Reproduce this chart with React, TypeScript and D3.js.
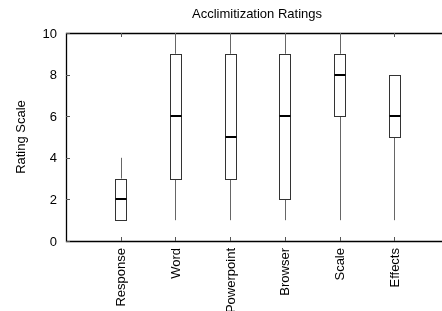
import * as d3 from 'd3';
import { useEffect, useRef } from "react";

const categories = ['Response', 'Word', 'Powerpoint', 'Browser', 'Scale', 'Effects'];
const whiskerLow = [1, 1, 1, 1, 1, 1];
const boxLow = [1, 3, 3, 2, 6, 5];
const medians = [2, 6, 5, 6, 8, 6];
const boxHigh = [3, 9, 9, 9, 9, 8];
const whiskerHigh = [4, 10, 10, 10, 10, 8];
const yTicks = [0, 2, 4, 6, 8, 10];

const width = 442;
const height = 311;
const margin = { left: 66, top: 33, bottom: 70 };

const App = () => {
    const svgRef = useRef<SVGSVGElement>(null);

    useEffect(() => {
        const svg = d3.select(svgRef.current)
            .attr('width', width)
            .attr('height', height);

        svg.selectAll('*').remove();

        const font = 'Liberation Sans, Arial, sans-serif';
        const fs = 13;
        const bottom = height - margin.bottom;

        const x = d3.scaleLinear()
            .domain([0, 7])
            .range([margin.left, 449]);

        const y = d3.scaleLinear()
            .domain([0, 10])
            .range([bottom, margin.top]);

        const px = (v: number) => Math.round(v) + 0.5;

        // frame
        svg.append('path')
            .attr('d', `M${width + 10},${px(y(10))}H${px(x(0))}V${px(y(0))}H${width + 10}`)
            .attr('fill', 'none')
            .attr('stroke', '#000')
            .attr('stroke-width', 1.3);

        // y ticks
        svg.selectAll('.ytick')
            .data(yTicks)
            .enter()
            .append('line')
            .attr('x1', x(0))
            .attr('x2', x(0) + 4)
            .attr('y1', d => px(y(d)))
            .attr('y2', d => px(y(d)))
            .attr('stroke', '#555');

        svg.selectAll('.ylabel')
            .data(yTicks)
            .enter()
            .append('text')
            .attr('x', x(0) - 9)
            .attr('y', d => y(d))
            .attr('dy', '0.36em')
            .attr('text-anchor', 'end')
            .attr('font-family', font)
            .attr('font-size', fs)
            .text(d => d);

        // x ticks, bottom and top
        categories.forEach((c, i) => {
            const cx = px(x(i + 1));
            svg.append('line')
                .attr('x1', cx).attr('x2', cx)
                .attr('y1', y(0)).attr('y2', y(0) - 4)
                .attr('stroke', '#555');
            svg.append('line')
                .attr('x1', cx).attr('x2', cx)
                .attr('y1', y(10)).attr('y2', y(10) + 4)
                .attr('stroke', '#555');
            svg.append('text')
                .attr('transform', `translate(${x(i + 1)},${bottom + 7}) rotate(-90)`)
                .attr('dy', '0.35em')
                .attr('text-anchor', 'end')
                .attr('font-family', font)
                .attr('font-size', fs)
                .text(c);
        });

        // boxes
        const bw = 11;
        categories.forEach((c, i) => {
            const cx = px(x(i + 1));
            const g = svg.append('g');
            g.append('line')
                .attr('x1', cx).attr('x2', cx)
                .attr('y1', y(whiskerLow[i])).attr('y2', y(boxLow[i]))
                .attr('stroke', '#666');
            g.append('line')
                .attr('x1', cx).attr('x2', cx)
                .attr('y1', y(boxHigh[i])).attr('y2', y(whiskerHigh[i]))
                .attr('stroke', '#666');
            g.append('rect')
                .attr('x', Math.round(x(i + 1) - bw / 2) + 0.5)
                .attr('y', px(y(boxHigh[i])))
                .attr('width', bw)
                .attr('height', Math.round(y(boxLow[i])) - Math.round(y(boxHigh[i])))
                .attr('fill', '#fff')
                .attr('stroke', '#333');
            g.append('line')
                .attr('x1', Math.round(x(i + 1) - bw / 2) + 0.5)
                .attr('x2', Math.round(x(i + 1) - bw / 2) + 0.5 + bw)
                .attr('y1', Math.round(y(medians[i])))
                .attr('y2', Math.round(y(medians[i])))
                .attr('stroke', '#000')
                .attr('stroke-width', 2);
        });

        svg.append('text')
            .attr('x', 257)
            .attr('y', 18)
            .attr('text-anchor', 'middle')
            .attr('font-family', font)
            .attr('font-size', fs)
            .text('Acclimitization Ratings');

        svg.append('text')
            .attr('transform', `translate(20.5,${(y(0) + y(10)) / 2}) rotate(-90)`)
            .attr('dy', '0.35em')
            .attr('text-anchor', 'middle')
            .attr('font-family', font)
            .attr('font-size', fs)
            .text('Rating Scale');
    }, []);

    return (
        <div style={{ position: 'fixed', left: 0, top: 0 }}>
            <svg ref={svgRef} style={{ display: 'block' }} />
        </div>
    );
}

export default App;
